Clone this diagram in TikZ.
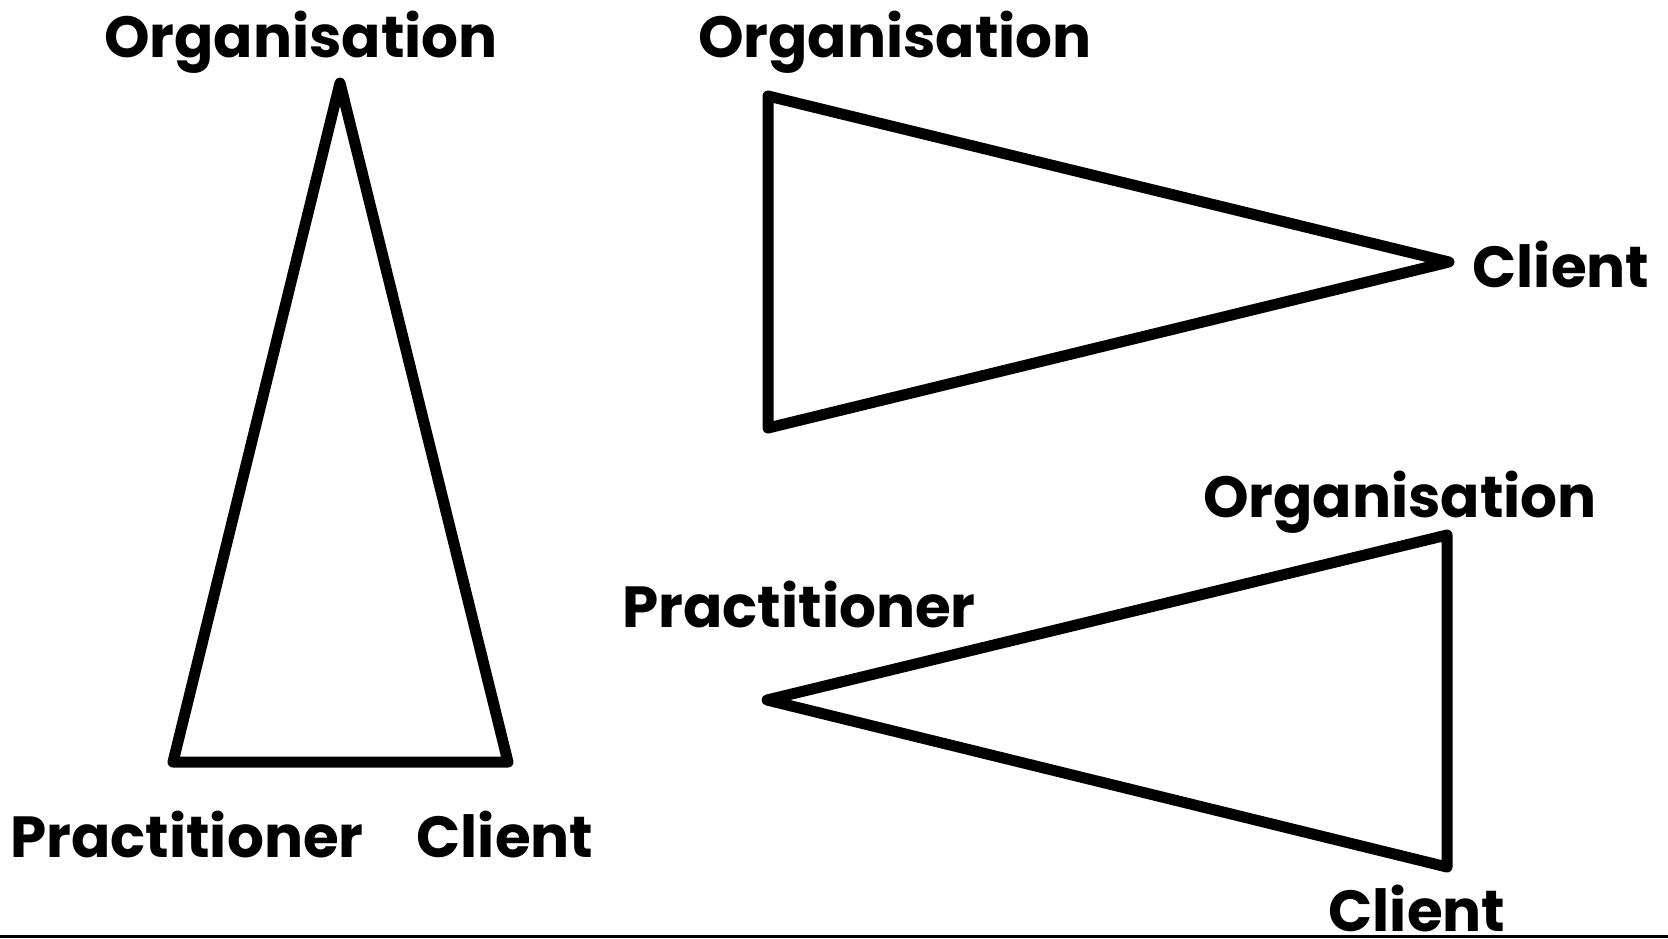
\documentclass[tikz,border=0pt]{standalone}
\usepackage{fontspec}
\setmainfont{Poppins}
\begin{document}
\begin{tikzpicture}[x=1pt,y=-1pt,
  tri/.style={draw=black,line width=11pt,line join=round,line cap=round},
  lbl/.style={font=\fontsize{58}{60}\selectfont\bfseries,anchor=base,inner sep=0pt}]
\useasboundingbox (0,0) rectangle (1668,938);
\clip (0,0) rectangle (1668,938);
% left triangle
\coordinate (a1) at (340,83);
\coordinate (a2) at (173,762);
\coordinate (a3) at (508,762);
\draw[tri] (a1) -- (a2) -- (a3) -- cycle;
% top-right triangle
\coordinate (b1) at (768,96);
\coordinate (b2) at (768,428);
\coordinate (b3) at (1449,262);
\draw[tri] (b1) -- (b2) -- (b3) -- cycle;
% lower triangle
\coordinate (c1) at (1447,535);
\coordinate (c2) at (1447,867);
\coordinate (c3) at (767,700);
\draw[tri] (c1) -- (c2) -- (c3) -- cycle;
% labels
\node[lbl] (o1) at (301,57) {Organisation};
\node[lbl] (p1) at (187,857) {Practitioner};
\node[lbl] (k1) at (505,857) {Client};
\node[lbl] (o2) at (895,57) {Organisation};
\node[lbl] (k2) at (1561,287) {Client};
\node[lbl] (o3) at (1400,517) {Organisation};
\node[lbl] (p3) at (799,627) {Practitioner};
\node[lbl] (k3) at (1417,931) {Client};
% bottom rule
\coordinate (r1) at (0,936.5);
\coordinate (r2) at (1668,936.5);
\draw[line width=3pt] (r1) -- (r2);
\end{tikzpicture}
\end{document}
